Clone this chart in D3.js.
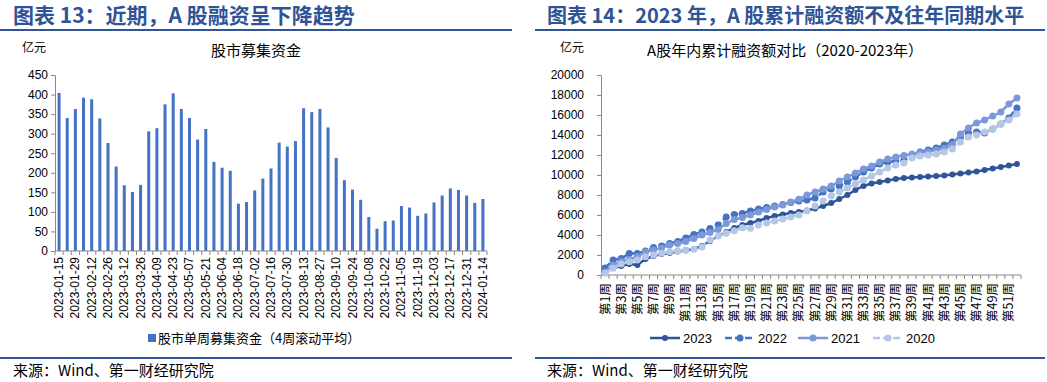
<!DOCTYPE html>
<html>
<head>
<meta charset="utf-8">
<script src="https://cdn.jsdelivr.net/npm/d3@7"></script>
<style>
  body { margin: 0; background: #fff; }
  svg text { font-family: "Liberation Sans", Arial, "Noto Sans CJK SC", sans-serif; }
  .cjk { font-family: "Noto Sans CJK SC", sans-serif; }
</style>
</head>
<body>
<div id="chart"></div>
<script>
// ---- left chart data: weekly equity fund raising (4-week rolling avg), 亿元
var weekDates = ["2023-01-15", "2023-01-22", "2023-01-29", "2023-02-05", "2023-02-12", "2023-02-19", "2023-02-26",
    "2023-03-05", "2023-03-12", "2023-03-19", "2023-03-26", "2023-04-02", "2023-04-09", "2023-04-16", "2023-04-23",
    "2023-04-30", "2023-05-07", "2023-05-14", "2023-05-21", "2023-05-28", "2023-06-04", "2023-06-11", "2023-06-18",
    "2023-06-25", "2023-07-02", "2023-07-09", "2023-07-16", "2023-07-23", "2023-07-30", "2023-08-06", "2023-08-13",
    "2023-08-20", "2023-08-27", "2023-09-03", "2023-09-10", "2023-09-17", "2023-09-24", "2023-10-01", "2023-10-08",
    "2023-10-15", "2023-10-22", "2023-10-29", "2023-11-05", "2023-11-12", "2023-11-19", "2023-11-26", "2023-12-03",
    "2023-12-10", "2023-12-17", "2023-12-24", "2023-12-31", "2024-01-07", "2024-01-14"];
var weeklyRaise = [404, 340, 363, 392, 388, 339, 276, 216, 168, 151,
    169, 306, 314, 375, 403, 363, 340, 285, 312, 228,
    213, 205, 121, 125, 155, 185, 211, 277, 267, 281,
    365, 355, 363, 316, 238, 181, 157, 131, 87, 57,
    76, 78, 115, 111, 90, 96, 124, 142, 160, 156,
    142, 123, 133];
var leftTicks = [0, 50, 100, 150, 200, 250, 300, 350, 400, 450];

// ---- right chart data: cumulative raising by week, 亿元
var weekLabels = d3.range(1, 53).map(function (i) { return "第" + i + "周"; });
var cum2023 = [400, 700, 900, 1100, 1000, 1600, 1900, 2100, 2200, 2350, 2450, 2600, 2900, 3400, 3900, 4300,
    4700, 5000, 5200, 5400, 5700, 5900, 6050, 6200, 6300, 6450, 6650, 6900, 7200, 7600, 8000, 8500,
    8900, 9150, 9300, 9450, 9600, 9700, 9750, 9800, 9850, 9900, 9950, 10050, 10150, 10250, 10350, 10500,
    10650, 10800, 10950, 11100];
var cum2022 = [700, 1500, 1650, 2150, 2150, 2400, 2750, 2900, 3150, 3350, 3700, 4050, 4300, 4650, 5000, 5800,
    6050, 6150, 6400, 6600, 6750, 6900, 7050, 7250, 7400, 7500, 7700, 8300, 8600, 8900, 9300, 9800,
    10300, 10700, 11100, 11300, 11400, 11500, 12000, 12300, 12500, 12700, 13000, 13300, 13800, 14200, 14300, 14200,
    14600, 15100, 15700, 16700];
var cum2021 = [300, 1000, 1350, 1550, 1850, 2300, 2500, 2700, 3000, 3150, 3350, 3650, 4000, 4250, 4550, 5150,
    5550, 5750, 6000, 6300, 6550, 6800, 7000, 7300, 7570, 8000, 8300, 8600, 8900, 9400, 9800, 10200,
    10600, 10900, 11300, 11600, 11800, 11950, 12100, 12230, 12330, 12500, 12670, 13000, 14100, 14700, 15200, 15500,
    15900, 16300, 17100, 17700];
var cum2020 = [170, 670, 1100, 1330, 1500, 1830, 2000, 2170, 2330, 2430, 2500, 2570, 2800, 3500, 3900, 4170,
    4430, 4730, 4670, 5000, 5200, 5400, 5600, 5800, 6000, 6400, 6900, 7400, 7900, 8300, 8700, 9100,
    9500, 9900, 10300, 10700, 11000, 11200, 11700, 11900, 12000, 12100, 12300, 12600, 13300, 13800, 14000, 14300,
    14600, 15100, 15500, 16100];
var rightTicks = d3.range(0, 20001, 2000);

var seriesNames = ["2023", "2022", "2021", "2020"];
var seriesValues = [cum2023, cum2022, cum2021, cum2020];

function draw() {
    var W = 1047, H = 382;
    var svg = d3.select("#chart").append("svg")
        .attr("width", W).attr("height", H);

    var titleColor = "#2F5496";
    var ruleColor = "#2F5597";
    var axisColor = "#898989";

    // ---------- panel frames (titles, rules, sources)
    var panels = [
        { x: 0, w: 512, tx: 13, size: 21, title: "图表 13：近期，A 股融资呈下降趋势" },
        { x: 535, w: 510, tx: 547, size: 20, title: "图表 14：2023 年，A 股累计融资额不及往年同期水平" }
    ];
    panels.forEach(function (p) {
        svg.append("text").attr("class", "cjk")
            .attr("x", p.tx).attr("y", 23)
            .style("font-size", p.size + "px").style("font-weight", "bold")
            .style("fill", titleColor)
            .text(p.title);
        svg.append("rect").attr("x", p.x).attr("y", 29).attr("width", p.w).attr("height", 2)
            .style("fill", ruleColor);
        svg.append("rect").attr("x", p.x).attr("y", 357).attr("width", p.w).attr("height", 2)
            .style("fill", ruleColor);
        svg.append("text").attr("class", "cjk")
            .attr("x", p.tx).attr("y", 376)
            .style("font-size", "15px").style("fill", "#000")
            .text("来源：Wind、第一财经研究院");
    });

    // ================= LEFT: bar chart
    var lm = { left: 55, right: 487, top: 75, bottom: 251 };
    var g1 = svg.append("g");

    var x1 = d3.scaleBand().domain(weekDates).range([lm.left, lm.right]).paddingInner(0).paddingOuter(0);
    var y1 = d3.scaleLinear().domain([0, 450]).range([lm.bottom, lm.top]);

    g1.append("text").attr("class", "cjk").attr("x", 22).attr("y", 52)
        .style("font-size", "12px").text("亿元");
    g1.append("text").attr("class", "cjk").attr("x", 256).attr("y", 56)
        .attr("text-anchor", "middle").style("font-size", "15px").text("股市募集资金");

    // bars
    g1.selectAll("rect.bar")
        .data(weeklyRaise)
        .enter()
        .append("rect")
        .attr("class", "bar")
        .attr("x", function (d, i) { return x1(weekDates[i]) + x1.bandwidth() / 2 - 1.5; })
        .attr("y", function (d) { return y1(d); })
        .attr("width", 3)
        .attr("height", function (d) { return y1(0) - y1(d); })
        .style("fill", "#4472C4");

    // y axis
    var yAx1 = g1.append("g")
        .attr("transform", "translate(" + lm.left + ",0)")
        .call(d3.axisLeft(y1).tickValues(leftTicks).tickSize(4).tickPadding(3));
    yAx1.select(".domain").attr("stroke", axisColor);
    yAx1.selectAll(".tick line").attr("stroke", axisColor);
    yAx1.selectAll("text").style("font-size", "12px").style("fill", "#000")
        .style("font-family", "'Liberation Sans', Arial, sans-serif");

    // x axis (ticks at band edges, labels every 2nd week)
    var xAx1 = g1.append("g").attr("transform", "translate(0," + lm.bottom + ")");
    xAx1.append("line").attr("x1", lm.left).attr("x2", lm.right).attr("stroke", axisColor);
    xAx1.selectAll("line.tk")
        .data(weekDates.concat(["end"]))
        .enter().append("line").attr("class", "tk")
        .attr("x1", function (d, i) { return lm.left + i * x1.bandwidth(); })
        .attr("x2", function (d, i) { return lm.left + i * x1.bandwidth(); })
        .attr("y1", 0).attr("y2", 4).attr("stroke", axisColor);
    xAx1.selectAll("text")
        .data(weekDates.filter(function (d, i) { return i % 2 == 0; }))
        .enter().append("text")
        .attr("transform", function (d) {
            return "translate(" + (x1(d) + x1.bandwidth() / 2 + 4) + ",6) rotate(-90)";
        })
        .attr("text-anchor", "end")
        .style("font-size", "12px")
        .text(function (d) { return d; });

    // legend
    g1.append("rect").attr("x", 148).attr("y", 334).attr("width", 8).attr("height", 8).style("fill", "#4472C4");
    g1.append("text").attr("class", "cjk").attr("x", 158).attr("y", 343)
        .style("font-size", "13px").text("股市单周募集资金（4周滚动平均）");

    // ================= RIGHT: cumulative lines
    var rm = { left: 601, right: 1021, top: 75, bottom: 275 };
    var g2 = svg.append("g");

    var x2 = d3.scaleBand().domain(weekLabels).range([rm.left, rm.right]);
    var y2 = d3.scaleLinear().domain([0, 20000]).range([rm.bottom, rm.top]);

    g2.append("text").attr("class", "cjk").attr("x", 560).attr("y", 52)
        .style("font-size", "12px").text("亿元");
    g2.append("text").attr("class", "cjk").attr("x", 785).attr("y", 56)
        .attr("text-anchor", "middle").style("font-size", "15px").text("A股年内累计融资额对比（2020-2023年）");

    var yAx2 = g2.append("g")
        .attr("transform", "translate(" + rm.left + ",0)")
        .call(d3.axisLeft(y2).tickValues(rightTicks).tickSize(4).tickPadding(13).tickFormat(d3.format("d")));
    yAx2.select(".domain").attr("stroke", axisColor);
    yAx2.selectAll(".tick line").attr("stroke", axisColor);
    yAx2.selectAll("text").style("font-size", "12px").style("fill", "#000");

    var xAx2 = g2.append("g").attr("transform", "translate(0," + rm.bottom + ")");
    xAx2.append("line").attr("x1", rm.left).attr("x2", rm.right).attr("stroke", axisColor);
    xAx2.selectAll("line.tk")
        .data(weekLabels.concat(["end"]))
        .enter().append("line").attr("class", "tk")
        .attr("x1", function (d, i) { return rm.left + i * x2.bandwidth(); })
        .attr("x2", function (d, i) { return rm.left + i * x2.bandwidth(); })
        .attr("y1", 0).attr("y2", 4).attr("stroke", axisColor);
    xAx2.selectAll("text")
        .data(weekLabels.filter(function (d, i) { return i % 2 == 0; }))
        .enter().append("text").attr("class", "cjk")
        .attr("transform", function (d) {
            return "translate(" + (x2(d) + x2.bandwidth() / 2 + 4.5) + ",8) rotate(-90)";
        })
        .attr("text-anchor", "end")
        .style("font-size", "12.5px")
        .text(function (d) { return d; });

    var styles = {
        "2023": { color: "#2F5597", dash: null, r: 3 },
        "2022": { color: "#4472C4", dash: "7,3", r: 3.5 },
        "2021": { color: "#7B98D8", dash: null, r: 3.5 },
        "2020": { color: "#B4C7E7", dash: "7,3", r: 3.5 }
    };

    var dataReady = seriesNames.map(function (name, k) {
        return {
            name: name,
            values: seriesValues[k].map(function (v, i) { return { week: weekLabels[i], value: v }; })
        };
    });

    var line = d3.line()
        .x(function (d) { return x2(d.week) + x2.bandwidth() / 2; })
        .y(function (d) { return y2(d.value); });

    var groups = g2.selectAll("g.series")
        .data(dataReady)
        .enter().append("g").attr("class", "series");
    groups.append("path")
        .attr("d", function (d) { return line(d.values); })
        .style("fill", "none")
        .style("stroke", function (d) { return styles[d.name].color; })
        .style("stroke-width", 2.5)
        .style("stroke-dasharray", function (d) { return styles[d.name].dash; });
    groups.selectAll("circle")
        .data(function (d) { return d.values.map(function (v) { return { name: d.name, week: v.week, value: v.value }; }); })
        .enter().append("circle")
        .attr("cx", function (d) { return x2(d.week) + x2.bandwidth() / 2; })
        .attr("cy", function (d) { return y2(d.value); })
        .attr("r", function (d) { return styles[d.name].r; })
        .style("fill", function (d) { return styles[d.name].color; });

    // legend
    var legX = [650, 725, 798, 873];
    var leg = g2.selectAll("g.leg")
        .data(seriesNames)
        .enter().append("g").attr("class", "leg")
        .attr("transform", function (d, i) { return "translate(" + legX[i] + ",338)"; });
    leg.append("line").attr("x1", 0).attr("x2", 30).attr("y1", 0).attr("y2", 0)
        .style("stroke", function (d) { return styles[d].color; })
        .style("stroke-width", 2.5)
        .style("stroke-dasharray", function (d) { return styles[d].dash; });
    leg.append("circle").attr("cx", 15).attr("cy", 0)
        .attr("r", function (d) { return styles[d].r; })
        .style("fill", function (d) { return styles[d].color; });
    leg.append("text").attr("x", 33).attr("y", 5)
        .style("font-size", "13px").text(function (d) { return d; });
}

draw();
</script>
</body>
</html>
